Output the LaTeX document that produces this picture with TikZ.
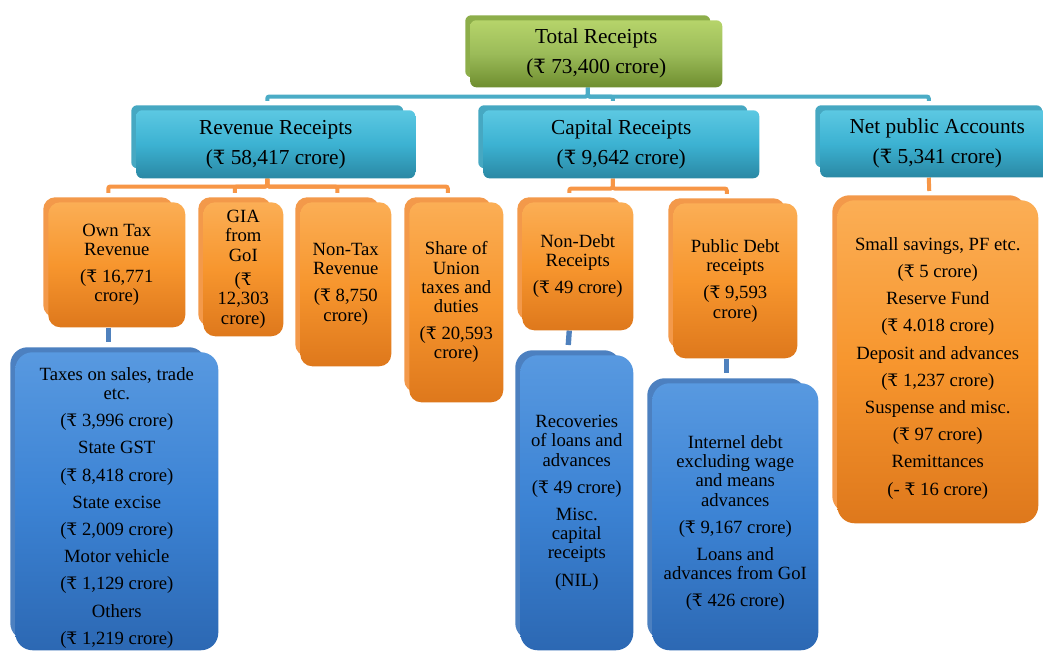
\documentclass[tikz,border=0pt]{standalone}
\usepackage{fontspec}
\setmainfont{Liberation Serif}
\newfontfamily\rupfont[Scale=0.92]{DejaVu Serif}
\usetikzlibrary{calc,backgrounds}
\pgfdeclarelayer{bottom}
\pgfsetlayers{bottom,background,main}
\definecolor{gtop}{HTML}{B6D46A}\definecolor{gmid}{HTML}{9BBB59}\definecolor{gbot}{HTML}{6F8E2F}\definecolor{gback}{HTML}{8DAE4A}
\definecolor{ttop}{HTML}{5CC8E2}\definecolor{tmid}{HTML}{3CB2D2}\definecolor{tbot}{HTML}{2A88A4}\definecolor{tback}{HTML}{46A8C2}
\definecolor{otop}{HTML}{FBAE55}\definecolor{omid}{HTML}{F7962E}\definecolor{obot}{HTML}{DE781C}\definecolor{oback}{HTML}{F3994A}
\definecolor{btop}{HTML}{5899E0}\definecolor{bmid}{HTML}{3C83D4}\definecolor{bbot}{HTML}{2C68B3}\definecolor{bback}{HTML}{4C80C0}
\definecolor{tline}{HTML}{4BACC6}\definecolor{oline}{HTML}{F79646}\definecolor{bline}{HTML}{4F81BD}
\newcommand\Rs{{\rupfont ₹}}
\newcommand\bigfont{\fontsize{16}{22.5}\selectfont}
\newcommand\smallfont{\fontsize{14}{14.4}\selectfont}
\newcommand\dn{\rule{0pt}{19.5pt}}
\newcommand\mkbox[7]{%
  \node[#1, anchor=north west, minimum width={(#5-#3)*0.75pt}, minimum height={(#6-#4)*0.75pt}] (#2) at (#3,#4) {#7};
  \begin{scope}[on background layer]
  \node[#1back, anchor=north west, minimum width={(#5-#3-7)*0.75pt}, minimum height={(#6-#4-5)*0.75pt}] (#2-b) at (#3-5,#4-5) {};
  \end{scope}}
\tikzset{
  basebox/.style={inner sep=0pt, align=center, text=black},
  greenbox/.style={basebox, rounded corners=4.5pt, top color=gtop, bottom color=gbot, middle color=gmid, font=\bigfont},
  greenboxback/.style={inner sep=0pt, rounded corners=4.5pt, fill=gback},
  tealbox/.style={basebox, rounded corners=4.5pt, top color=ttop, bottom color=tbot, middle color=tmid, font=\bigfont},
  tealboxback/.style={inner sep=0pt, rounded corners=4.5pt, fill=tback},
  orbox/.style={basebox, rounded corners=9pt, top color=otop, bottom color=obot, middle color=omid, font=\smallfont},
  orboxback/.style={inner sep=0pt, rounded corners=9pt, fill=oback},
  orbigbox/.style={basebox, rounded corners=13pt, top color=otop, bottom color=obot, middle color=omid, font=\smallfont},
  orbigboxback/.style={inner sep=0pt, rounded corners=13pt, fill=oback},
  bluebox/.style={basebox, rounded corners=13pt, top color=btop, bottom color=bbot, middle color=bmid, font=\smallfont},
  blueboxback/.style={inner sep=0pt, rounded corners=13pt, fill=bback},
  tconn/.style={draw=tline, line width=3pt, rounded corners=1.5pt},
  oconn/.style={draw=oline, line width=3pt, rounded corners=1.5pt},
  bconn/.style={draw=bline, line width=4pt},
}
\begin{document}
\begin{tikzpicture}[x=0.75pt,y=-0.75pt]
\useasboundingbox (0,0) rectangle (1043,652);
\begin{pgfonlayer}{bottom}
\fill[white] (0,0) rectangle (1043,652);
\end{pgfonlayer}
\def\g{\\[6pt]}
\mkbox{greenbox}{total}{470}{20}{722}{87}{Total Receipts\\(\Rs{} 73,400 crore)}
\mkbox{tealbox}{rev}{136}{110}{415}{178}{Revenue Receipts\\(\Rs{} 58,417 crore)}
\mkbox{tealbox}{cap}{483}{110}{759}{178}{Capital Receipts\\(\Rs{} 9,642 crore)}
\mkbox{tealbox}{net}{820}{110}{1054}{177}{Net public Accounts\\(\Rs{} 5,341 crore)}
\mkbox{orbox}{own}{48}{202}{185}{327}{Own Tax\\Revenue\g(\Rs{} 16,771\\crore)}
\mkbox{orbox}{gia}{203}{202}{283}{336}{GIA\\from\\GoI\\[4pt](\Rs\\12,303\\crore)}
\mkbox{orbox}{ntr}{300}{202}{391}{366}{Non-Tax\\Revenue\g(\Rs{} 8,750\\crore)}
\mkbox{orbox}{share}{409}{202}{503}{402}{Share of\\Union\\taxes and\\duties\g(\Rs{} 20,593\\crore)}
\mkbox{orbox}{nd}{522}{202}{633}{330}{Non-Debt\\Receipts\g(\Rs{} 49 crore)}
\mkbox{orbox}{pd}{673}{203}{797}{358}{Public Debt\\receipts\g(\Rs{} 9,593\\crore)}
\mkbox{orbigbox}{npc}{837}{200}{1038}{523}{\dn Small savings, PF etc.\g(\Rs{} 5 crore)\g Reserve Fund\g(\Rs{} 4.018 crore)\g Deposit and advances\g(\Rs{} 1,237 crore)\g Suspense and misc.\g(\Rs{} 97 crore)\g Remittances\g(- \Rs{} 16 crore)}
\mkbox{bluebox}{taxes}{15}{352}{218}{650}{\dn Taxes on sales, trade\\etc.\g(\Rs{} 3,996 crore)\g State GST\g(\Rs{} 8,418 crore)\g State excise\g(\Rs{} 2,009 crore)\g Motor vehicle\g(\Rs{} 1,129 crore)\g Others\g(\Rs{} 1,219 crore)}
\mkbox{bluebox}{rec}{520}{355}{633}{650}{Recoveries\\of loans and\\advances\g(\Rs{} 49 crore)\g Misc.\\capital\\receipts\g(NIL)}
\mkbox{bluebox}{int}{652}{383}{818}{650}{\dn Internel debt\\excluding wage\\and means\\advances\g(\Rs{} 9,167 crore)\g Loans and\\advances from GoI\g(\Rs{} 426 crore)}
% connectors
\begin{scope}[on background layer]
\draw[tconn] (total-b.south |- total.south) -- ++(0,9) -| ($(rev-b.north)+(0,-4)$);
\draw[tconn] (total-b.south |- total.south) -- ++(0,9) -| ($(cap-b.north)+(0,-4)$);
\draw[tconn] (total-b.south |- total.south) -- ++(0,9) -| ($(net-b.north)+(0,-4)$);
\draw[oconn] (rev-b.south |- rev.south) -- ++(0,8) -| ($(own-b.north)+(0,-4)$);
\draw[oconn] (rev-b.south |- rev.south) -- ++(0,8) -| ($(gia-b.north)+(0,-4)$);
\draw[oconn] (rev-b.south |- rev.south) -- ++(0,8) -| ($(ntr-b.north)+(0,-4)$);
\draw[oconn] (rev-b.south |- rev.south) -- ++(0,8) -| ($(share-b.north)+(0,-4)$);
\draw[oconn] (cap-b.south |- cap.south) -- ++(0,10) -| ($(nd-b.north)+(0,-4)$);
\draw[oconn] (cap-b.south |- cap.south) -- ++(0,10) -| ($(pd-b.north)+(0,-4)$);
\draw[oconn] (net-b.south |- net.south) -- ($(npc-b.north)+(0,-4)$);
\draw[bconn] (own-b.south |- own.south) -- ($(taxes-b.north)+(0,-5)$);
\draw[bconn] (nd-b.south |- nd.south) -- ($(rec-b.north)+(0,-5)$);
\draw[bconn] (pd-b.south |- pd.south) -- ($(int-b.north)+(0,-5)$);
\end{scope}
\end{tikzpicture}
\end{document}
